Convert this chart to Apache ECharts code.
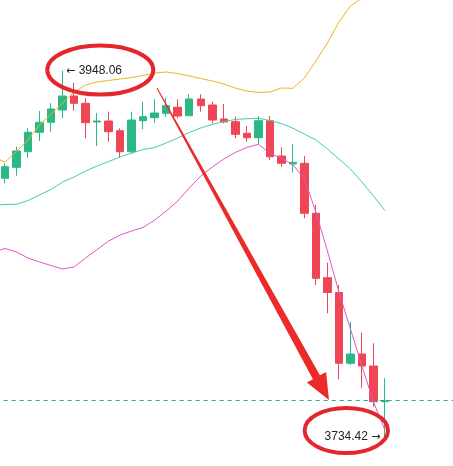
<!DOCTYPE html>
<html><head><meta charset="utf-8">
<script src="https://cdn.jsdelivr.net/npm/echarts@6/dist/echarts.min.js"></script>
<style>html,body{margin:0;padding:0;background:#fff}#c{width:453px;height:466px}</style>
</head><body><div id="c"></div>
<script>
// candle OHLC (34 visible candles)
const opens  = [3885.25,3891.67,3900.78,3912.10,3917.94,3925.12,3933.29,3929.03,3918.12,3918.70,3913.04,3900.78,3918.88,3920.63,3923.19,3926.70,3921.79,3931.54,3928.04,3919.87,3918.29,3911.52,3908.95,3918.88,3898.27,3893.60,3894.01,3864.82,3827.23,3818.59,3777.26,3782.69,3775.69,3754.85];
const closes = [3892.02,3901.19,3912.10,3917.94,3925.70,3933.29,3929.03,3917.71,3918.70,3912.45,3900.78,3919.28,3921.21,3923.37,3927.63,3921.62,3931.54,3927.63,3919.28,3918.12,3910.94,3908.95,3918.88,3897.86,3894.01,3894.59,3864.82,3826.88,3818.59,3777.26,3782.69,3775.69,3754.85,3755.43];
const lows   = [3882.33,3886.77,3897.28,3907.03,3912.45,3920.28,3924.71,3908.60,3904.11,3906.62,3897.51,3899.44,3913.86,3917.71,3921.21,3920.28,3921.79,3924.13,3917.36,3917.36,3908.60,3906.62,3905.27,3895.93,3892.02,3888.64,3861.90,3822.97,3806.45,3767.92,3776.27,3762.67,3751.93,3734.42];
const highs  = [3894.01,3903.70,3914.44,3924.54,3929.03,3948.06,3941.06,3931.95,3923.37,3924.13,3914.44,3924.13,3929.97,3931.37,3932.30,3931.37,3934.28,3934.28,3929.97,3928.62,3921.21,3915.78,3921.62,3921.62,3903.35,3905.27,3898.27,3869.67,3835.99,3822.97,3801.55,3795.13,3788.94,3768.51];
// Bollinger bands (first value belongs to the candle just left of the view)
const upperBand = [3897.69,3894.77,3900.90,3907.61,3916.36,3922.79,3929.21,3935.63,3939.71,3941.46,3942.34,3943.22,3944.09,3945.26,3946.72,3947.30,3946.43,3944.97,3943.51,3942.05,3940.30,3937.96,3936.21,3935.34,3935.63,3937.96,3937.79,3943.80,3953.70,3964.23,3976.49,3985.83,3990.50,3995.17,3994.58];
const midBand   = [3869.67,3869.96,3870.08,3872.29,3875.50,3878.72,3883.09,3886.01,3889.51,3892.43,3895.06,3897.69,3900.02,3902.06,3903.23,3905.86,3908.78,3911.99,3914.61,3916.66,3918.41,3919.58,3920.04,3920.28,3918.99,3917.24,3914.50,3911.11,3907.61,3902.36,3896.52,3890.68,3883.09,3874.92,3866.46];
const lowerBand = [3842.23,3844.28,3842.23,3838.73,3836.40,3834.35,3832.31,3833.48,3838.73,3843.69,3848.65,3852.16,3854.49,3856.65,3860.91,3866.17,3872.00,3879.59,3886.60,3891.85,3896.52,3900.31,3903.23,3905.10,3900.02,3896.81,3893.31,3884.84,3865.58,3842.82,3818.88,3797.29,3775.69,3754.67,3738.33];
const rightPad = 6;

const total = 1 + opens.length + rightPad;
const categories = [];
for (let i = 0; i < total; i++) categories.push('K' + i);
const kData = [['-','-','-','-']];
for (let i = 0; i < opens.length; i++) kData.push([opens[i], closes[i], lows[i], highs[i]]);
for (let i = 0; i < rightPad; i++) kData.push(['-','-','-','-']);
function pad(arr){ const a = arr.slice(); for (let i = 0; i < rightPad; i++) a.push(null); return a; }

const UP = '#2cb886', DOWN = '#ef4656';
const step = 11.515;
const txtFont = 'Liberation Sans, Arial, sans-serif';
const chart = echarts.init(document.getElementById('c'), null, {renderer:'canvas'});
chart.setOption({
  animation: false,
  backgroundColor: '#ffffff',
  grid: { left: 5 - 1.5*step, top: 0, width: total*step, height: 466, outerBoundsMode: 'none', containLabel: false },
  xAxis: { type: 'category', data: categories, show: false, boundaryGap: true },
  yAxis: { type: 'value', min: 3717.32, max: 3989.33, show: false, splitLine:{show:false} },
  series: [
    {
      type: 'candlestick', data: kData, barWidth: 8,
      itemStyle: { color: UP, color0: DOWN, borderColor: UP, borderColor0: DOWN, borderWidth: 1 },
      markPoint: {
        symbol: 'circle', symbolSize: 1, itemStyle: { color: 'rgba(0,0,0,0)' },
        data: [
          { type: 'max', valueDim: 'highest', label: { position: 'right', distance: 3, formatter: p => '{a|\u2190} ' + Number(p.value).toFixed(2) } },
          { type: 'min', valueDim: 'lowest', label: { position: 'left', distance: 4, formatter: p => Number(p.value).toFixed(2) + ' {a|\u2192}' } }
        ],
        label: { show: true, color: '#222', fontSize: 12, fontFamily: txtFont,
          rich: { a: { fontFamily: 'DejaVu Sans, sans-serif', fontSize: 11, color: '#222' } } }
      },
      markLine: {
        symbol: ['none','none'], silent: true, label: { show: false },
        lineStyle: { color: '#2aa889', type: [4,4], width: 1 },
        data: [{ yAxis: closes[closes.length-1] }]
      }
    },
    { type: 'line', data: pad(upperBand), symbol: 'none', lineStyle: { color: '#f2b41c', width: 1 }, z: 3 },
    { type: 'line', data: pad(midBand), symbol: 'none', lineStyle: { color: '#42cfa6', width: 1 }, z: 3 },
    { type: 'line', data: pad(lowerBand), symbol: 'none', lineStyle: { color: '#dd58c8', width: 1 }, z: 3 }
  ],
  graphic: [
    { type: 'ellipse', z: 100, shape: { cx: 100.3, cy: 70, rx: 53, ry: 24.5 }, style: { fill: 'none', stroke: '#e5272d', lineWidth: 4 } },
    { type: 'ellipse', z: 100, shape: { cx: 346.3, cy: 430.5, rx: 41.7, ry: 22.5 }, style: { fill: 'none', stroke: '#e5272d', lineWidth: 4 } },
    { type: 'polygon', z: 100, shape: { points: [[156.56,88.24],[312.95,379.16],[306.82,382.54],[329,400],[326.08,371.92],[319.95,375.30],[157.44,87.76]] }, style: { fill: '#ec2a2a' } }
  ]
});
</script></body></html>
